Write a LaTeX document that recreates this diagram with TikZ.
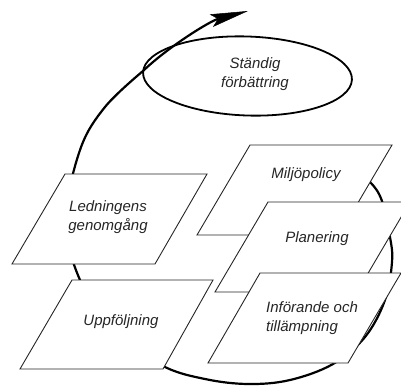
\documentclass[tikz,border=0pt]{standalone}
\usepackage{fontspec}
\setmainfont{Liberation Sans}
\usetikzlibrary{arrows.meta,shapes.geometric}
\begin{document}
\begin{tikzpicture}[x=1pt,y=-1pt,
  box/.style={draw=black!85,line width=0.9pt,fill=white,line join=miter},
  lbl/.style={font=\fontsize{15}{18.5}\selectfont\itshape,align=center,inner sep=0pt,text=black!85},
  spiral/.style={line width=2.2pt},
  loopell/.style={draw,line width=1.8pt,ellipse,inner sep=0pt,minimum width=209pt,minimum height=79pt},
]
\useasboundingbox (0,0) rectangle (401,386);
\clip (0,0) rectangle (401,386);
% spiral
\coordinate (sp0) at (350,168);
\coordinate (tip) at (248,11);
\draw[spiral,-{Stealth[length=38pt,width=13pt,inset=7pt,line width=0.5pt]}] plot[smooth,tension=0.6] coordinates {(sp0) (370,182) (382,201) (390,237) (392,262) (385,300) (365,337) (333,364) (290,380) (248,384) (205,379) (163,366) (115,333) (80,280) (66,220) (80,150) (105,107) (143,71)} .. controls (168,47) and (210,21) .. (tip);
% ellipse
\node[loopell,rotate=-2] (ell) at (247.5,76) {};
\node[lbl] (st) at (255,74) {Ständig\\förbättring};
% Ledningens genomgång
\draw[box] (65,174) -- (207,174) -- (155,264) -- (12,264) -- cycle;
\node[lbl] (led) at (108,217) {Ledningens\\genomgång};
% Uppföljning
\draw[box] (72,280) -- (213,280) -- (163,369) -- (20,369) -- cycle;
\node[lbl] (upp) at (121,322) {Uppföljning};
% Miljöpolicy
\draw[box] (250,145) -- (392,145) -- (339,235) -- (197,235) -- cycle;
\node[lbl] (mil) at (306,175) {Miljöpolicy};
% Planering
\draw[box] (268,202) -- (410,202) -- (357,292) -- (215,292) -- cycle;
\node[lbl] (pla) at (317,239) {Planering};
% Införande och tillämpning
\draw[box] (260,273) -- (401,273) -- (348,363) -- (208,363) -- cycle;
\node[lbl,align=left,anchor=west] (inf) at (266,318) {Införande och\\tillämpning};
\end{tikzpicture}
\end{document}
